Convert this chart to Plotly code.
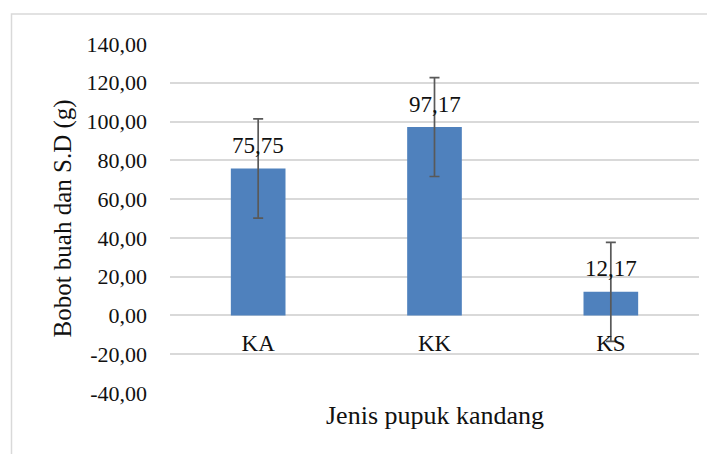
import plotly.graph_objects as go

categories = ["KA", "KK", "KS"]
values = [75.75, 97.17, 12.17]
sd = [25.6, 25.5, 25.5]
value_labels = ["75,75", "97,17", "12,17"]
y_tickvals = [-40, -20, 0, 20, 40, 60, 80, 100, 120, 140]
y_ticktext = ["-40,00", "-20,00", "0,00", "20,00", "40,00", "60,00", "80,00", "100,00", "120,00", "140,00"]

FONT = "Liberation Serif, Times New Roman, serif"
TXT = "#111111"

# page body has an 8px offset; plot area in screenshot: x 170-699, y 44-393
L, T, PW, PH = 162, 36, 529, 349
W, H = 715, 454

fig = go.Figure()
fig.add_trace(go.Bar(
    x=categories, y=values,
    marker=dict(color="#4F81BD", line=dict(width=0)),
    width=0.31,
    error_y=dict(type="data", array=sd, visible=True, color="#595959", thickness=1.7, width=5),
    hoverinfo="skip",
))

for c, v, t in zip(categories, values, value_labels):
    fig.add_annotation(x=c, y=v, text=t, showarrow=False, yshift=23,
                       font=dict(family=FONT, size=23, color=TXT))

fig.update_layout(
    width=W, height=H,
    margin=dict(l=L, r=W - L - PW, t=T, b=H - T - PH, autoexpand=False),
    paper_bgcolor="white", plot_bgcolor="white",
    showlegend=False,
    font=dict(family=FONT, color=TXT),
    xaxis=dict(
        anchor="free", position=40/180,
        showline=False, showgrid=False, zeroline=False,
        ticks="", tickfont=dict(family=FONT, size=23, color=TXT),
        ticklabelstandoff=12,
    ),
    yaxis=dict(
        range=[-40, 140], tickvals=y_tickvals, ticktext=y_ticktext,
        showgrid=True, gridcolor="#d9d9d9", gridwidth=1.5,
        zeroline=False, showline=False, ticks="",
        tickfont=dict(family=FONT, size=22, color=TXT),
        ticklabelstandoff=22,
        automargin=False,
    ),
)

# y-axis title
fig.add_annotation(xref="paper", yref="paper", x=(62 - 8 - L) / PW, y=0.5,
                   xanchor="center", yanchor="middle", textangle=-90,
                   text="Bobot buah dan S.D (g)", showarrow=False,
                   font=dict(family=FONT, size=25, color=TXT))

# x-axis title
fig.add_annotation(xref="paper", yref="paper", x=0.5, y=0, yshift=-22, yanchor="middle",
                   text="Jenis pupuk kandang", showarrow=False,
                   font=dict(family=FONT, size=26, color=TXT))

# outer chart border (cut off at right and bottom in the reference)
fig.add_shape(type="rect", xref="paper", yref="paper",
              x0=(11.5 - 8 - L) / PW, x1=2.0, y0=-2.0, y1=1 + (44 - 14) / PH,
              line=dict(color="#d9d9d9", width=1.5), fillcolor="rgba(0,0,0,0)", layer="below")

fig.write_html("out.html")
